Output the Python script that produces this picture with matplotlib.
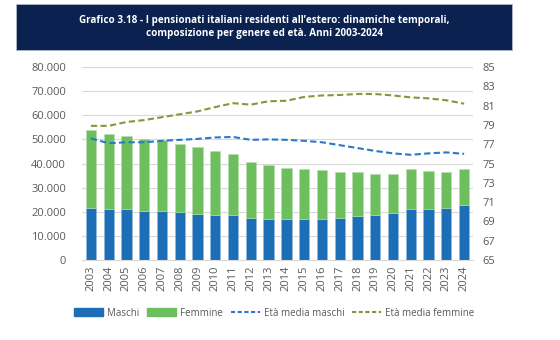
import matplotlib
matplotlib.use("Agg")
import matplotlib.pyplot as plt
from matplotlib.patches import Rectangle
from matplotlib.lines import Line2D
from matplotlib.patches import Patch

years = [str(y) for y in range(2003, 2025)]
totale = [54000, 52200, 51200, 50000, 49800, 48200, 46900, 45100, 44000, 40800, 39400,
          38300, 37900, 37100, 36500, 36300, 35600, 35800, 37600, 37000, 36500, 37800]
maschi = [21700, 21300, 21000, 20500, 20500, 19800, 19200, 18700, 18500, 17400, 17000,
          17000, 17200, 17200, 17600, 18300, 18700, 19500, 21000, 21000, 21500, 22700]
femmine = [t - m for t, m in zip(totale, maschi)]
eta_maschi = [77.6, 77.1, 77.2, 77.2, 77.35, 77.45, 77.55, 77.7, 77.75, 77.45, 77.5,
              77.45, 77.35, 77.2, 76.9, 76.6, 76.3, 76.05, 75.9, 76.05, 76.15, 76.0]
eta_femmine = [78.9, 78.9, 79.3, 79.5, 79.8, 80.1, 80.4, 80.85, 81.25, 81.1, 81.45,
               81.5, 81.9, 82.05, 82.1, 82.2, 82.2, 82.05, 81.85, 81.75, 81.55, 81.2]
left_ticks = list(range(0, 80001, 10000))
left_labels = ["0"] + [f"{v//1000}.000" for v in left_ticks[1:]]
right_ticks = list(range(65, 86, 2))

BLUE = "#1c6fb7"
GREEN = "#6cbf5c"
LBLUE = "#2b78c8"
LGREEN = "#7f9a3c"
NAVY = "#0b2250"
TXT = "#595959"

plt.rcParams['font.family'] = ['Open Sans', 'DejaVu Sans']

fig = plt.figure(figsize=(5.6, 3.4), dpi=100)
fig.patches.append(Rectangle((16/560, 1-50/340), (512-16)/560, 46/340,
                             transform=fig.transFigure, facecolor=NAVY,
                             edgecolor="#b0b8c8", lw=0.6, zorder=0))
fig.text(264/560, 1-27/340,
         "Grafico 3.18 - I pensionati italiani residenti all\u2019estero: dinamiche temporali,\n"
         "composizione per genere ed et\u00e0. Anni 2003-2024",
         color="white", ha="center", va="center", fontsize=7.1, fontweight="bold",
         linespacing=1.35)

ax = fig.add_axes([82/560, 1-260/340, (473-82)/560, (260-67)/340])
x = range(len(years))
ax.bar(x, maschi, width=0.58, color=BLUE, edgecolor="#8fb8dd", linewidth=0.4, zorder=2)
ax.bar(x, femmine, bottom=maschi, width=0.58, color=GREEN, edgecolor="#b5ddb0",
       linewidth=0.4, zorder=2)
ax.set_ylim(0, 80000)
ax.set_xlim(-0.5, len(years) - 0.5)
ax.set_yticks(left_ticks)
ax.set_yticklabels(left_labels)
ax.set_xticks(list(x))
ax.set_xticklabels(years, rotation=90)
ax.grid(axis="y", color="#d9d9d9", lw=0.8, zorder=0)
ax.set_axisbelow(True)
for s in ["top", "right", "left"]:
    ax.spines[s].set_visible(False)
ax.spines["bottom"].set_color("#d9d9d9")
ax.tick_params(axis="both", length=0, colors=TXT, labelsize=8)
ax.tick_params(axis="y", pad=11.5)
ax.tick_params(axis="x", pad=4)

ax2 = ax.twinx()
ax2.plot(list(x), eta_maschi, color=LBLUE, lw=1.5, ls=(0, (3, 1.6)), zorder=3)
ax2.plot(list(x), eta_femmine, color=LGREEN, lw=1.5, ls=(0, (3, 1.6)), zorder=3)
ax2.set_ylim(65, 85)
ax2.set_yticks(right_ticks)
for s in ["top", "right", "left", "bottom"]:
    ax2.spines[s].set_visible(False)
ax2.tick_params(axis="y", length=0, colors=TXT, labelsize=8, pad=7)

handles = [Patch(color=BLUE), Patch(color=GREEN),
           Line2D([], [], color=LBLUE, lw=1.5, ls=(0, (2, 1.2))),
           Line2D([], [], color=LGREEN, lw=1.5, ls=(0, (2, 1.2)))]
labels = ["Maschi", "Femmine", "Et\u00e0 media maschi", "Et\u00e0 media femmine"]
fig.legend(handles, labels, loc="center", bbox_to_anchor=(274/560, 1-313/340),
           ncol=4, frameon=False, fontsize=7,
           handlelength=3.0, handleheight=0.9,
           columnspacing=0.8, handletextpad=0.4, labelcolor=TXT)

fig.savefig("out.png", dpi=100)
